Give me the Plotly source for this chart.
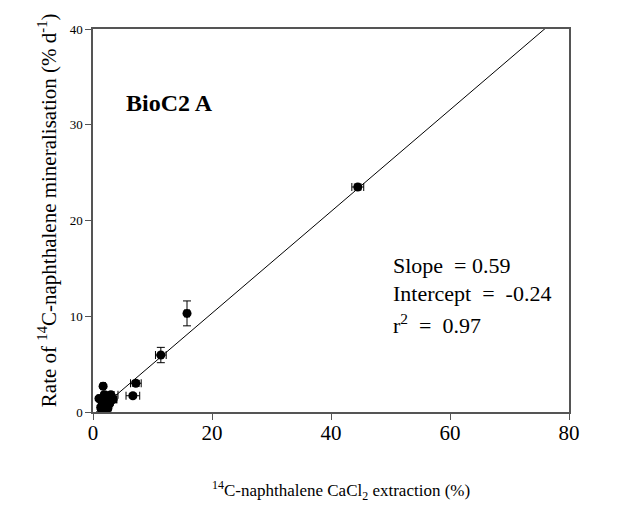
import plotly.graph_objects as go

# Data
x_ext = [44.5, 15.8, 11.4, 7.2, 6.7, 1.7, 3.0, 2.4, 1.5, 2.2, 1.3, 1.6, 2.5, 3.4, 1.0, 1.9, 2.8, 1.4, 2.0]
y_rate = [23.5, 10.3, 5.95, 3.0, 1.7, 2.7, 1.8, 1.4, 1.1, 0.8, 0.5, 0.15, 0.4, 1.3, 1.4, 1.8, 0.9, 0.3, 0.1]
x_err = [1.0, 0.4, 0.9, 0.9, 1.15, 0.4, 1.2, 0.5, 0.4, 0.5, 0.3, 0.3, 0.5, 0.6, 0.3, 0.4, 0.5, 0.3, 0.3]
y_err = [0.3, 1.3, 0.8, 0.3, 0.2, 0.2, 0.3, 0.3, 0.2, 0.2, 0.2, 0.2, 0.2, 0.3, 0.2, 0.2, 0.2, 0.2, 0.2]

# Fitted line as drawn on the chart
line_slope = 0.531
line_intercept = -0.30
line_x = [0, 80]
line_y = [line_slope * v + line_intercept for v in line_x]

x_ticks = [0, 20, 40, 60, 80]
y_ticks = [0, 10, 20, 30, 40]

FONT = "Liberation Serif"
AXIS_COLOR = "#555555"

fig = go.Figure()
fig.add_trace(go.Scatter(
    x=line_x, y=line_y, mode="lines",
    line=dict(color="black", width=1), hoverinfo="skip", showlegend=False))
fig.add_trace(go.Scatter(
    x=x_ext, y=y_rate, mode="markers",
    marker=dict(color="black", size=9),
    error_x=dict(type="data", array=x_err, color="black", thickness=1, width=4),
    error_y=dict(type="data", array=y_err, color="black", thickness=1, width=4),
    showlegend=False))

fig.update_layout(
    width=630, height=500,
    margin=dict(l=85, r=69, t=21, b=96),
    plot_bgcolor="white", paper_bgcolor="white",
    font=dict(family=FONT, color="black"),
    xaxis=dict(range=[0, 80], tickvals=x_ticks, showgrid=False, zeroline=False,
               showline=True, linecolor=AXIS_COLOR, linewidth=1.5, mirror=True,
               ticks="outside", ticklen=6, tickcolor=AXIS_COLOR,
               ticklabelstandoff=-5,
               tickfont=dict(size=21, family=FONT), automargin=False),
    yaxis=dict(range=[0, 40], tickvals=y_ticks, showgrid=False, zeroline=False,
               showline=True, linecolor=AXIS_COLOR, linewidth=1.5, mirror=True,
               ticks="outside", ticklen=6, tickcolor=AXIS_COLOR,
               tickfont=dict(size=13, family=FONT), automargin=False),
    annotations=[
        dict(x=0.52, y=-0.205, xref="paper", yref="paper", xanchor="center", yanchor="middle",
             text="<sup>14</sup>C-naphthalene CaCl<sub>2</sub> extraction (%)",
             showarrow=False, font=dict(size=17, family=FONT)),
        dict(x=-0.0966, y=0.527, xref="paper", yref="paper", xanchor="center", yanchor="middle",
             textangle=-90,
             text="Rate of <sup>14</sup>C-naphthalene mineralisation (% d<sup>-1</sup>)",
             showarrow=False, font=dict(size=21, family=FONT)),
        dict(x=12.9, y=32.3, xref="x", yref="y", xanchor="center", yanchor="middle",
             text="<b>BioC2 A</b>", showarrow=False, font=dict(size=24, family=FONT)),
        dict(x=50.0, y=15.3, xref="x", yref="y", xanchor="left", yanchor="middle",
             text="Slope  = 0.59", showarrow=False, font=dict(size=22, family=FONT)),
        dict(x=50.0, y=12.4, xref="x", yref="y", xanchor="left", yanchor="middle",
             text="Intercept  =  -0.24", showarrow=False, font=dict(size=22, family=FONT)),
        dict(x=50.0, y=9.2, xref="x", yref="y", xanchor="left", yanchor="middle",
             text="r<sup>2</sup>  =  0.97", showarrow=False, font=dict(size=22, family=FONT)),
    ],
)

fig.write_html("out.html")
